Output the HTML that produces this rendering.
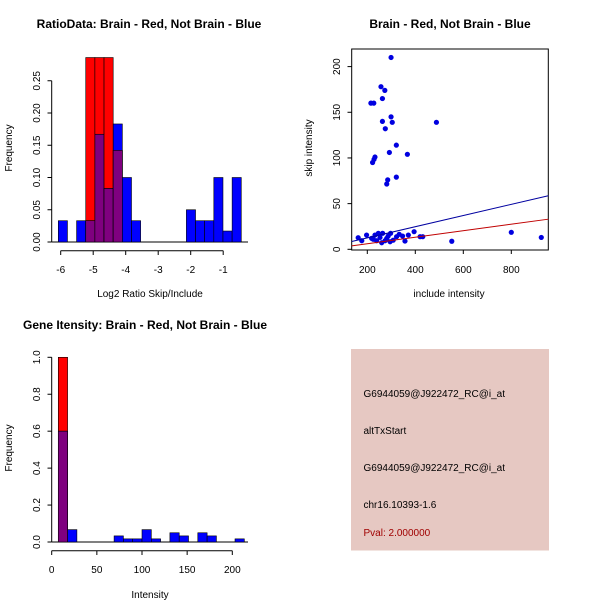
<!DOCTYPE html>
<html><head><meta charset="utf-8"><style>
body{margin:0;background:#fff}
svg{display:block;font-family:"Liberation Sans",sans-serif}
</style></head><body>
<svg id="c" width="600" height="600" viewBox="0 0 600 600">
<rect x="0" y="0" width="600" height="600" fill="#fff"/>
<g id="p1"></g>
<g id="p2"></g>
<g id="p3"></g>
<g id="p4">
<rect x="351" y="349" width="198" height="201.5" fill="#e6c8c2"/>
<text x="363.5" y="397" font-size="10">G6944059@J922472_RC@i_at</text>
<text x="363.5" y="434" font-size="10">altTxStart</text>
<text x="363.5" y="471" font-size="10">G6944059@J922472_RC@i_at</text>
<text x="363.5" y="508" font-size="10">chr16.10393-1.6</text>
<text x="363.5" y="536" font-size="10" fill="#a00000">Pval: 2.000000</text>
</g>
</svg>
<script>
// Plot 1 data
const p1Start = -6.074, p1Width = 0.2815;
const p1Blue = [0.033,0,0.033,0.033,0.167,0.083,0.183,0.1,0.033,0,0,0,0,0,0.05,0.033,0.033,0.1,0.017,0.1];
const p1Red  = [0,0,0,0.286,0.286,0.286,0.142,0,0,0,0,0,0,0,0,0,0,0,0,0];
const p1XTicks = [-6,-5,-4,-3,-2,-1];
const p1YTicks = ["0.00","0.05","0.10","0.15","0.20","0.25"];
// Plot 2 data
const p2X = [299,257,273,263,215,227,263,299,304,275,321,488,367,292,232,228,222,285,281,321,
 162,177,197,218,232,239,253,264,274,287,297,308,333,357,371,395,420,431,552,800,925,225,246,281,295,260,322,347];
const p2Y = [210,178,174,165,160,160,140,145,139,132,114,139,104,106,101,98.5,95,76,71.5,79,
 12.7,9.4,15.6,12,15.6,9.4,13,17.5,9.4,14.5,17.5,10,16.4,9,15.6,19.3,13.8,13.8,8.8,18.6,13,11,17.5,12,8.3,7.2,13.8,14.5];
const p2BlueLine = [0.3, 0.0611];
const p2RedLine = [-1.1, 0.0357];
const p2XTicks = [200,400,600,800];
const p2YTicks = [0,50,100,150,200];
// Plot 3 data
const p3Start = 7.3, p3Width = 10.3;
const p3Blue = [0.6,0.067,0,0,0,0,0.033,0.017,0.017,0.067,0.017,0,0.05,0.033,0,0.05,0.033,0,0,0.017];
const p3Red  = [1.0,0,0,0,0,0,0,0,0,0,0,0,0,0,0,0,0,0,0,0];
const p3XTicks = [0,50,100,150,200];
const p3YTicks = ["0.0","0.2","0.4","0.6","0.8","1.0"];

const NS="http://www.w3.org/2000/svg";
function mk(parent,tag,attrs,txt){const e=document.createElementNS(NS,tag);for(const k in attrs)e.setAttribute(k,attrs[k]);if(txt!==undefined)e.textContent=txt;parent.appendChild(e);return e;}

function hist(g,start,width,red,blue,sx,sy,name){
  for(let i=0;i<blue.length;i++){
    const x0=sx(start+i*width), x1=sx(start+(i+1)*width);
    const r=red[i], b=blue[i], m=Math.min(r,b);
    if(r>0){const e=mk(g,'rect',{x:x0,y:sy(r),width:x1-x0,height:sy(0)-sy(r),fill:'#ff0000',stroke:'#000','stroke-width':0.6});
      
      }
    if(b>0){const e=mk(g,'rect',{x:x0,y:sy(b),width:x1-x0,height:sy(0)-sy(b),fill:'#0000ff',stroke:'#000','stroke-width':0.6});
      
      }
    if(m>0){const e=mk(g,'rect',{x:x0,y:sy(m),width:x1-x0,height:sy(0)-sy(m),fill:'#7f007f',stroke:'#000','stroke-width':0.6});
      
      }
  }
}
function title(g,x,y,t,name){const e=mk(g,'text',{x:x,y:y,'font-size':12,'font-weight':'bold','text-anchor':'middle'},t);
  
  }
function label(g,x,y,t,rot,name){const a={x:x,y:y,'font-size':10,'text-anchor':'middle'};if(rot)a.transform=`rotate(-90 ${x} ${y})`;const e=mk(g,'text',a,t);
  
  }

// ---- Plot 1
(function(){
  const g=document.getElementById('p1');
  const sx=v=>60.7+(v+6)*32.5, sy=v=>242-v*645;
  mk(g,'line',{x1:51.7,x2:248,y1:242,y2:242,stroke:'#000'});
  hist(g,p1Start,p1Width,p1Red,p1Blue,sx,sy,'ratio');
  mk(g,'line',{x1:sx(-6),x2:sx(-1),y1:250.7,y2:250.7,stroke:'#000'});
  p1XTicks.forEach(t=>{mk(g,'line',{x1:sx(t),x2:sx(t),y1:250.7,y2:255,stroke:'#000'});label(g,sx(t),273,String(t),false,'x-tick-label');});
  mk(g,'line',{x1:51.7,x2:51.7,y1:sy(0),y2:sy(0.25),stroke:'#000'});
  p1YTicks.forEach(t=>{const y=sy(parseFloat(t));mk(g,'line',{x1:47.5,x2:51.7,y1:y,y2:y,stroke:'#000'});label(g,40,y,t,true,'y-tick-label');});
  title(g,149,28,'RatioData: Brain - Red, Not Brain - Blue','ratio-title');
  label(g,150,297,'Log2 Ratio Skip/Include',false,'x-axis-title');
  label(g,12,148,'Frequency',true,'y-axis-title');
})();

// ---- Plot 2
(function(){
  const g=document.getElementById('p2');
  const sx=v=>367.3+(v-200)*0.24, sy=v=>249.3-v*0.9135;
  const xl=351.7,xr=548.3;
  mk(g,'rect',{x:xl,y:49,width:xr-xl,height:201,fill:'none',stroke:'#000'});
  const ix=v=>(v-367.3)/0.24+200;
  p2X.forEach((x,i)=>{const e=mk(g,'circle',{cx:sx(x),cy:sy(p2Y[i]),r:2.6,fill:'#0000e0'});
    
    });
  [[p2BlueLine,'#0000a0','blue-fit-line'],[p2RedLine,'#c00000','red-fit-line']].forEach(([l,c,n])=>{
    const a=ix(xl),b=ix(xr);
    const e=mk(g,'line',{x1:xl,x2:xr,y1:sy(l[0]+l[1]*a),y2:sy(l[0]+l[1]*b),stroke:c,'stroke-width':1});
    
    });
  p2XTicks.forEach(t=>{mk(g,'line',{x1:sx(t),x2:sx(t),y1:250,y2:254,stroke:'#000'});label(g,sx(t),273,String(t),false,'x-tick-label');});
  p2YTicks.forEach(t=>{mk(g,'line',{x1:347.5,x2:351.7,y1:sy(t),y2:sy(t),stroke:'#000'});label(g,340,sy(t),String(t),true,'y-tick-label');});
  title(g,450,28,'Brain - Red, Not Brain - Blue','scatter-title');
  label(g,449,297,'include intensity',false,'x-axis-title');
  label(g,312,148,'skip intensity',true,'y-axis-title');
})();

// ---- Plot 3
(function(){
  const g=document.getElementById('p3');
  const sx=v=>51.7+v*0.903, sy=v=>542-v*184.7;
  mk(g,'line',{x1:51.7,x2:248,y1:542,y2:542,stroke:'#000'});
  hist(g,p3Start,p3Width,p3Red,p3Blue,sx,sy,'intensity');
  mk(g,'line',{x1:sx(0),x2:sx(200),y1:550.7,y2:550.7,stroke:'#000'});
  p3XTicks.forEach(t=>{mk(g,'line',{x1:sx(t),x2:sx(t),y1:550.7,y2:555,stroke:'#000'});label(g,sx(t),573,String(t),false,'x-tick-label');});
  mk(g,'line',{x1:51.7,x2:51.7,y1:sy(0),y2:sy(1),stroke:'#000'});
  p3YTicks.forEach(t=>{const y=sy(parseFloat(t));mk(g,'line',{x1:47.5,x2:51.7,y1:y,y2:y,stroke:'#000'});label(g,40,y,t,true,'y-tick-label');});
  title(g,145,329,'Gene Itensity: Brain - Red, Not Brain - Blue','intensity-title');
  label(g,150,598,'Intensity',false,'x-axis-title');
  label(g,12,448,'Frequency',true,'y-axis-title');
})();
</script>
</body></html>
